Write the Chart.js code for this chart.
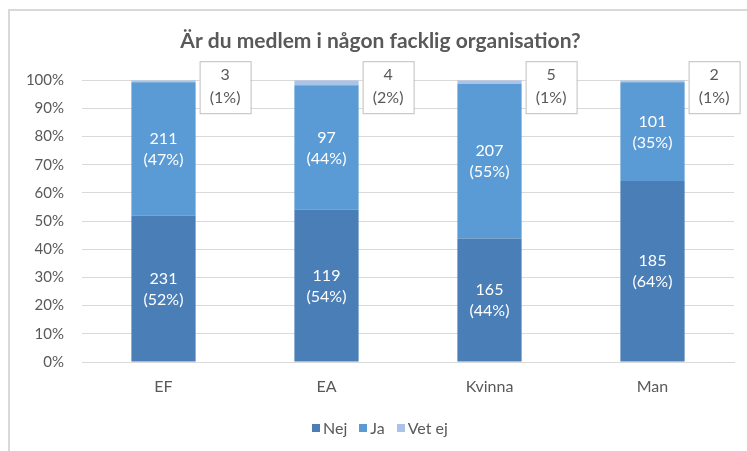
<!DOCTYPE html>
<html>
<head>
<meta charset="utf-8">
<script src="https://cdn.jsdelivr.net/npm/chart.js@4"></script>
<style>
  html, body { margin: 0; padding: 0; background: #fff; }
  body { width: 747px; height: 451px; position: relative; overflow: hidden; font-family: Lato, "Open Sans", sans-serif; }
  #frame { position: absolute; left: 8px; top: 9px; width: 760px; height: 460px; border-left: 2px solid #d9d9d9; border-top: 2px solid #d9d9d9; }
  #wrap { position: absolute; left: 0; top: 0; width: 747px; height: 451px; }
  #legend { position: absolute; left: 312px; top: 418px; display: flex; gap: 12px; color: #595959; font-size: 16px; }
  #legend span.item { display: flex; align-items: center; }
  #legend i { display: inline-block; width: 8px; height: 8px; margin-right: 3px; }
</style>
</head>
<body>
<div id="frame"></div>
<div id="wrap"><canvas id="chart" width="747" height="451"></canvas></div>
<div id="legend"></div>
<script>
'use strict';

/* ---------- data ---------- */
const categories = ['EF', 'EA', 'Kvinna', 'Man'];
const seriesNames = ['Nej', 'Ja', 'Vet ej'];
const nejCount   = [231, 119, 165, 185];
const jaCount    = [211, 97, 207, 101];
const vetejCount = [3, 4, 5, 2];
// share of each group, in percent
const nejPct   = [51.9, 54.1, 43.8, 64.2];
const jaPct    = [47.4, 44.1, 54.9, 35.1];
const vetejPct = [0.7, 1.8, 1.3, 0.7];
const yTicks = [0, 10, 20, 30, 40, 50, 60, 70, 80, 90, 100];

const colors = ['#4a7eb6', '#5b9bd5', '#a9c4e8'];
const textGrey = '#595959';
const fontFamily = 'Lato, "Open Sans", sans-serif';

/* ---------- legend (html) ---------- */
document.getElementById('legend').innerHTML = seriesNames
  .map((n, i) => `<span class="item"><i style="background:${colors[i]}"></i>${n}</span>`)
  .join('');

/* ---------- value labels ---------- */
const labelPlugin = {
  id: 'valueLabels',
  afterDatasetsDraw(chart) {
    const ctx = chart.ctx;
    ctx.save();
    ctx.font = `16px ${fontFamily}`;
    ctx.textAlign = 'center';
    ctx.textBaseline = 'middle';
    chart.data.datasets.forEach((ds, di) => {
      const meta = chart.getDatasetMeta(di);
      meta.data.forEach((bar, i) => {
        const count = ds.counts[i];
        const pct = Math.round(ds.data[i]) + '%';
        if (di < 2) {
          const cy = (bar.y + bar.base) / 2;
          ctx.fillStyle = '#ffffff';
          ctx.fillText(String(count), bar.x, cy - 10);
          ctx.fillText('(' + pct + ')', bar.x, cy + 11);
        } else {
          const bx = bar.x + bar.width / 2 + 4;
          const by = bar.y - 19;
          const bw = 51, bh = 52;
          ctx.fillStyle = '#ffffff';
          ctx.fillRect(bx, by, bw, bh);
          ctx.strokeStyle = '#bfbfbf';
          ctx.lineWidth = 1;
          ctx.strokeRect(bx + 0.5, by + 0.5, bw, bh);
          ctx.fillStyle = textGrey;
          ctx.fillText(String(count), bx + bw / 2, by + 14);
          ctx.fillText('(' + pct + ')', bx + bw / 2, by + 37);
        }
      });
    });
    ctx.restore();
  }
};

/* ---------- chart ---------- */
new Chart(document.getElementById('chart'), {
  type: 'bar',
  data: {
    labels: categories,
    datasets: [
      { label: seriesNames[0], data: nejPct,   counts: nejCount,   backgroundColor: colors[0] },
      { label: seriesNames[1], data: jaPct,    counts: jaCount,    backgroundColor: colors[1] },
      { label: seriesNames[2], data: vetejPct, counts: vetejCount, backgroundColor: colors[2] }
    ]
  },
  options: {
    responsive: false,
    animation: false,
    layout: { padding: { left: 27, right: 13, top: 0, bottom: 0 } },
    datasets: { bar: { categoryPercentage: 1, barPercentage: 0.394, borderWidth: 0 } },
    plugins: {
      legend: { display: false },
      tooltip: { enabled: false },
      title: {
        display: true,
        text: 'Är du medlem i någon facklig organisation?',
        color: textGrey,
        font: { family: fontFamily, size: 21, weight: 'bold' },
        padding: { top: 29, bottom: 26 }
      }
    },
    scales: {
      x: {
        stacked: true,
        grid: { display: false, drawTicks: false },
        border: { color: '#d9d9d9', width: 1 },
        ticks: { color: textGrey, font: { family: fontFamily, size: 16 }, padding: 15 },
        afterFit: s => { s.height = 89; }
      },
      y: {
        stacked: true,
        min: 0,
        max: 100,
        afterBuildTicks: s => { s.ticks = yTicks.map(v => ({ value: v })); },
        grid: { color: '#d9d9d9', drawTicks: false },
        border: { display: false },
        ticks: { color: textGrey, font: { family: fontFamily, size: 15 }, padding: 18, callback: v => v + '%' },
        afterFit: s => { s.width = 55; }
      }
    }
  },
  plugins: [labelPlugin]
});
</script>
</body>
</html>
